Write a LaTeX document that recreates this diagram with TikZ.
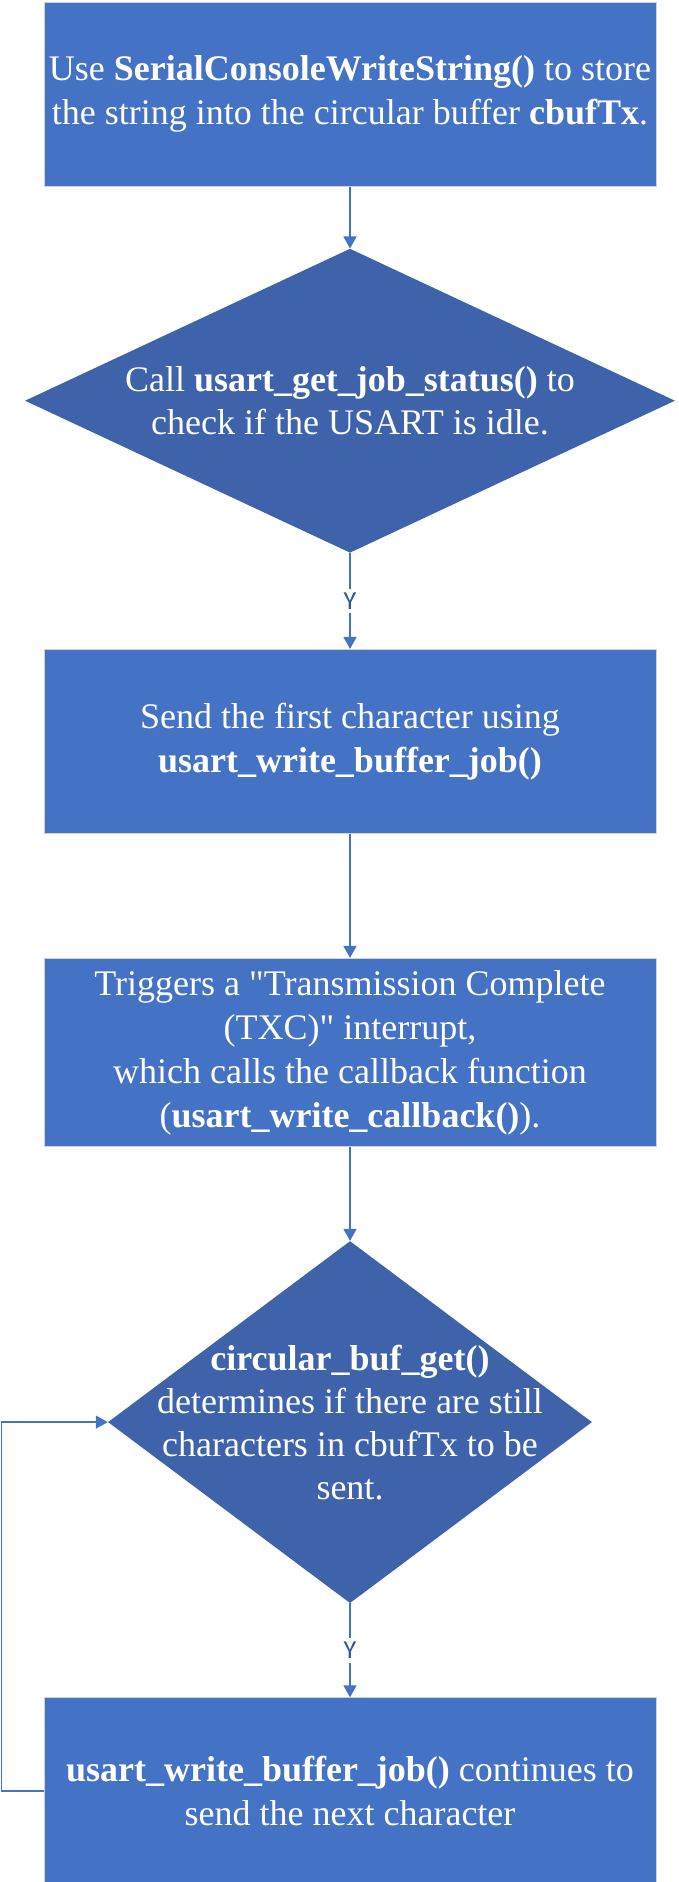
\documentclass[tikz,border=0pt]{standalone}
\usepackage{xcolor}
\usepackage{fontspec}
\setmainfont{Liberation Serif}
\newfontfamily\yfont{Carlito}
\usepackage{tikz}
\usetikzlibrary{positioning, arrows.meta, shapes.geometric}

\definecolor{boxblue}{RGB}{68,114,196}
\definecolor{diablue}{RGB}{62,99,171}
\definecolor{yblue}{RGB}{47,85,151}

\begin{document}
\begin{tikzpicture}[
            x=1pt, y=1pt,
            node distance=94pt,
            block/.style={rectangle, draw=gray!35, line width=1pt, fill=boxblue, text=white, minimum width=612pt, minimum height=184pt, inner sep=2pt, font=\fontsize{36}{44}\selectfont, align=center},
            decision/.style={diamond, fill=diablue, text=white, inner sep=-110pt, font=\fontsize{36}{43}\selectfont, align=center},
            arr/.style={-{Triangle[length=12pt, width=13pt]}, draw=boxblue, line width=1.5pt},
            yes/.style={font=\yfont\fontsize{26}{26}\selectfont, text=yblue, fill=white, inner sep=4pt}
        ]
            \useasboundingbox (0,0) rectangle (678,-1882);
            \node[block] (store) at (350,-94) {Use \textbf{SerialConsoleWriteString()} to store\\the string into the circular buffer \textbf{cbufTx}.};
            \node[decision, minimum width=650pt, minimum height=304pt, below=62pt of store] (status) {Call \textbf{usart\_get\_job\_status()} to\\check if the USART is idle.};
            \node[block, below=96pt of status] (send) {Send the first character using\\\textbf{usart\_write\_buffer\_job()}};
            \node[block, minimum height=188pt, below=124pt of send] (txc) {Triggers a \textquotedbl Transmission Complete\\(TXC)\textquotedbl{} interrupt,\\which calls the callback function\\(\textbf{usart\_write\_callback()}).};
            \node[decision, minimum width=484pt, minimum height=362pt, below=of txc] (getbuf) {\textbf{circular\_buf\_get()}\\determines if there are still\\characters in cbufTx to be\\sent.};
            \node[block, minimum height=186pt, below=of getbuf] (next) {\textbf{usart\_write\_buffer\_job()} continues to\\send the next character};

            \draw[arr] (store) -- (status);
            \draw[arr] (status) -- node[yes] (yes1) {Y} (send);
            \draw[arr] (send) -- (txc);
            \draw[arr] (txc) -- (getbuf);
            \draw[arr] (getbuf) -- node[yes] (yes2) {Y} (next);
            \draw[arr] (next.west) -- ++(-42,0) |- (getbuf.west);
        \end{tikzpicture}
\end{document}
